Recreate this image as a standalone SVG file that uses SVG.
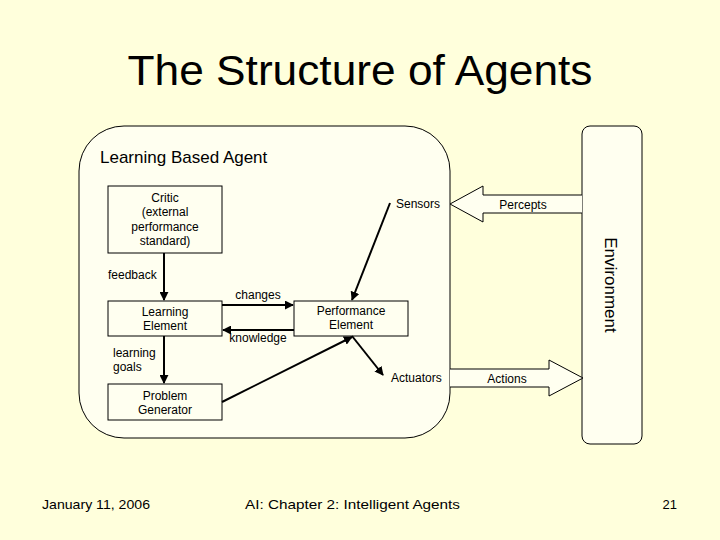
<svg xmlns="http://www.w3.org/2000/svg" width="720" height="540" viewBox="0 0 720 540">
<style>
text{font-family:"Liberation Sans",Arial,sans-serif;fill:#000}
.s{font-size:12px}
.box{fill:#FFFFF0;stroke:#000;stroke-width:1}
.ln{stroke:#000;stroke-width:2;fill:none;marker-end:url(#ah)}
.blk{fill:#FFFFF0;stroke:#000;stroke-width:1}
</style>
<defs>
<marker id="ah" viewBox="0 0 10 10" refX="9" refY="5" markerWidth="4.5" markerHeight="4.5" orient="auto" markerUnits="strokeWidth">
<path d="M0,0 L10,5 L0,10 z" fill="#000"/>
</marker>
</defs>
<rect width="720" height="540" fill="#FFFFDC"/>
<text x="360" y="85" font-size="43" text-anchor="middle" textLength="465" lengthAdjust="spacingAndGlyphs">The Structure of Agents</text>
<g id="agent">
<rect x="79" y="126" width="371" height="312" rx="45" ry="45" class="box"/>
<text x="100" y="163" font-size="17">Learning Based Agent</text>
</g>
<g id="environment">
<rect x="582" y="126" width="60" height="318" rx="8" ry="8" class="box"/>
<text transform="translate(605,285) rotate(90)" font-size="17" text-anchor="middle">Environment</text>
</g>
<g id="critic">
<rect x="108" y="186" width="114" height="67" class="box"/>
<text class="s" x="165" y="202" text-anchor="middle">Critic</text>
<text class="s" x="165" y="216" text-anchor="middle">(external</text>
<text class="s" x="165" y="231" text-anchor="middle">performance</text>
<text class="s" x="165" y="245" text-anchor="middle">standard)</text>
</g>
<g id="learning">
<rect x="108" y="301" width="114" height="35" class="box"/>
<text class="s" x="165" y="316" text-anchor="middle">Learning</text>
<text class="s" x="165" y="330" text-anchor="middle">Element</text>
</g>
<g id="problem">
<rect x="108" y="384" width="114" height="36" class="box"/>
<text class="s" x="165" y="400" text-anchor="middle">Problem</text>
<text class="s" x="165" y="414" text-anchor="middle">Generator</text>
</g>
<g id="performance">
<rect x="294" y="301" width="114" height="35" class="box"/>
<text class="s" x="351" y="315" text-anchor="middle">Performance</text>
<text class="s" x="351" y="329" text-anchor="middle">Element</text>
</g>
<g id="connectors">
<line x1="164" y1="253" x2="164" y2="300" class="ln"/>
<line x1="164" y1="336" x2="164" y2="383" class="ln"/>
<line x1="222" y1="305" x2="293" y2="305" class="ln"/>
<line x1="294" y1="330" x2="223" y2="330" class="ln"/>
<line x1="390" y1="203" x2="352" y2="300" class="ln"/>
<line x1="222" y1="402" x2="352" y2="337" class="ln"/>
<line x1="352" y1="336" x2="383" y2="375" class="ln"/>
<path d="M582,195 L483,195 L483,186 L450,204 L483,222 L483,213 L582,213" class="blk"/>
<path d="M450,369 L549,369 L549,360 L583,378 L549,396 L549,387 L450,387" class="blk"/>
<text class="s" x="108" y="279">feedback</text>
<text class="s" x="113" y="357">learning</text>
<text class="s" x="113" y="371">goals</text>
<text class="s" x="258" y="299" text-anchor="middle">changes</text>
<text class="s" x="258" y="342" text-anchor="middle">knowledge</text>
<text class="s" x="396" y="208">Sensors</text>
<text class="s" x="391" y="382">Actuators</text>
<text class="s" x="523" y="209" text-anchor="middle">Percepts</text>
<text class="s" x="507" y="383" text-anchor="middle">Actions</text>
</g>
<text x="42" y="509" font-size="13" textLength="108" lengthAdjust="spacingAndGlyphs">January 11, 2006</text>
<text x="245" y="509" font-size="13" textLength="215" lengthAdjust="spacingAndGlyphs">AI: Chapter 2: Intelligent Agents</text>
<text x="677" y="509" font-size="13" text-anchor="end">21</text>
</svg>
